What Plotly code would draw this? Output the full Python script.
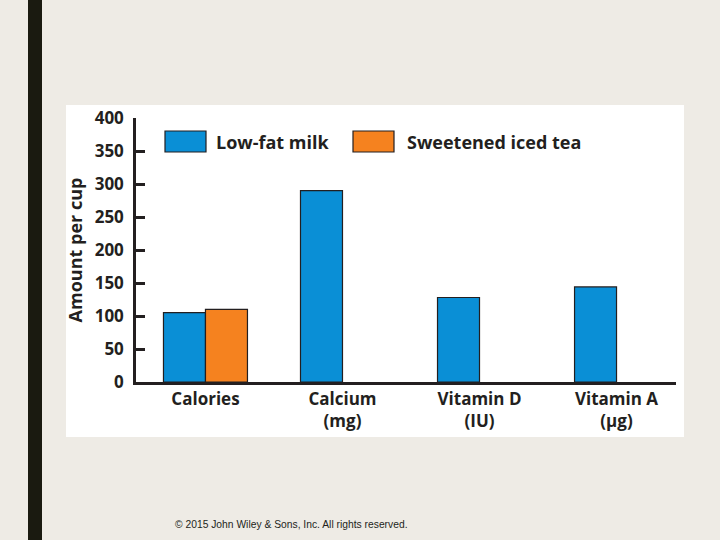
import plotly.graph_objects as go

categories = ["Calories", "Calcium<br>(mg)", "Vitamin D<br>(IU)", "Vitamin A<br>(µg)"]
milk_values = [105, 290, 128, 144]
tea_values = [110, None, None, None]
series_names = ["Low-fat milk", "Sweetened iced tea"]
series_colors = ["#0a8fd6", "#f5821f"]
y_ticks = [0, 50, 100, 150, 200, 250, 300, 350, 400]

FONT = "Open Sans"
DARK = "#231f20"
BG = "#eeebe5"

fig = go.Figure()
x_idx = list(range(len(categories)))
for name, vals, col in zip(series_names, [milk_values, tea_values], series_colors):
    fig.add_trace(go.Bar(
        x=x_idx, y=vals, name=name,
        marker=dict(color=col, line=dict(color=DARK, width=1.2)),
        showlegend=False,
    ))

# plot area geometry (pixels): x 136..676, y 118..382
L, R, T, B = 136, 676, 118, 382
W, H = R - L, B - T
def px(x):
    return (x - L) / W
def py(y):
    return (B - y) / H

shapes = [
    # white panel
    dict(type="rect", xref="paper", yref="paper", x0=px(66), x1=px(684), y0=py(437), y1=py(105),
         fillcolor="white", line=dict(width=0), layer="below"),
    # dark vertical bar
    dict(type="rect", xref="paper", yref="paper", x0=px(28), x1=px(42), y0=py(545), y1=py(-5),
         fillcolor="#1a1a10", line=dict(width=0), layer="below"),
]
annotations = []
# legend swatches
leg = [(165, 206, 214), (353, 394, 405)]
for (sx0, sx1, tx), name, col in zip(leg, series_names, series_colors):
    shapes.append(dict(type="rect", xref="paper", yref="paper", x0=px(sx0), x1=px(sx1),
                       y0=py(152), y1=py(131), fillcolor=col, line=dict(color=DARK, width=1.2)))
    annotations.append(dict(xref="paper", yref="paper", x=px(tx), y=py(141.5), text=name,
                            showarrow=False, xanchor="left", yanchor="middle",
                            font=dict(family=FONT, size=18, color=DARK, weight="bold")))
annotations.append(dict(xref="paper", yref="paper", x=px(173), y=py(524),
                        text="© 2015 John Wiley & Sons, Inc. All rights reserved.",
                        showarrow=False, xanchor="left", yanchor="middle",
                        font=dict(family="Liberation Sans", size=10.3, color=DARK)))

fig.update_layout(
    width=720, height=540,
    margin=dict(l=L, r=720 - R, t=T, b=540 - B, pad=0),
    paper_bgcolor=BG, plot_bgcolor="rgba(0,0,0,0)",
    barmode="group", bargap=0.387, bargroupgap=0,
    shapes=shapes, annotations=annotations,
    showlegend=False,
    xaxis=dict(
        range=[-0.507, 3.434], tickmode="array", tickvals=x_idx, ticktext=categories,
        showline=True, linecolor=DARK, linewidth=2.5, showgrid=False, zeroline=False,
        ticks="", tickfont=dict(family=FONT, size=17, color=DARK, weight="bold"),
        fixedrange=True,
    ),
    yaxis=dict(
        range=[0, 400], tickmode="array", tickvals=y_ticks,
        showline=True, linecolor=DARK, linewidth=2.5, showgrid=False, zeroline=False,
        ticks="inside", ticklen=9, tickwidth=2.5, tickcolor=DARK,
        tickfont=dict(family=FONT, size=17, color=DARK, weight="bold"),
        title=dict(text="Amount per cup", font=dict(family=FONT, size=18, color=DARK, weight="bold"),
                   standoff=8),
        ticklabelstandoff=6, fixedrange=True,
    ),
)

fig.write_html("out.html", config={"displayModeBar": False},
               post_script="document.body.style.margin='0';document.body.style.background='#eeebe5';")
